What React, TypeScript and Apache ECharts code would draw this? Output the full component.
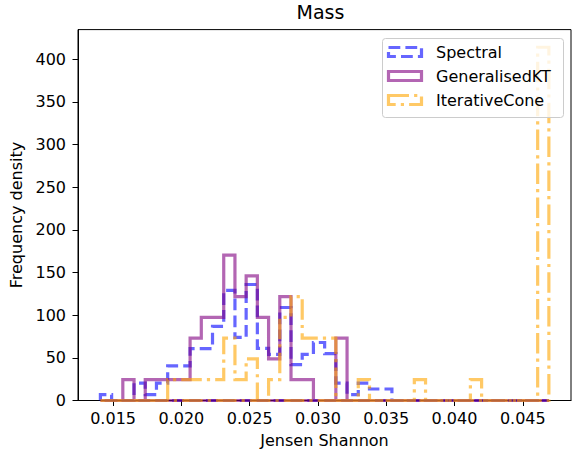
import React, { useEffect, useRef } from "react";
import * as echarts from "echarts";

// Histogram bins (shared by all three series)
const binStart = 0.01407;
const binWidth = 0.000821;

const seriesNames = ["Spectral", "GeneralisedKT", "IterativeCone"];

// Frequency density per bin (40 bins)
const spectral = [
  6.8, 0, 0, 20.3, 6.8, 20.3, 40.6, 40.6, 60.9, 60.9,
  87, 129, 74, 136, 61, 54, 109, 42, 54, 68,
  55, 20.3, 6.8, 20.3, 13.5, 13.5, 0, 0, 0, 0,
  0, 0, 0, 0, 0, 0, 0, 0, 0, 0,
];
const generalisedKT = [
  0, 0, 24.4, 0, 24.4, 24.4, 24.4, 24.4, 73.1, 97.4,
  97.4, 170.5, 121.8, 146.1, 97.4, 48.7, 121.8, 24.4, 24.4, 0,
  0, 73.1, 0, 0, 0, 0, 0, 0, 0, 0,
  0, 0, 0, 0, 0, 0, 0, 0, 0, 0,
];
const iterativeCone = [
  0, 0, 0, 0, 0, 0, 24.4, 24.4, 24.4, 24.4,
  24.4, 73.1, 24.4, 48.7, 0, 24.4, 97.4, 121.8, 73.1, 73.1,
  73.1, 0, 0, 24.4, 0, 0, 0, 0, 24.4, 0,
  0, 0, 0, 24.4, 0, 0, 0, 0, 0, 414.1,
];

const xTicks = [0.015, 0.02, 0.025, 0.03, 0.035, 0.04, 0.045];
const yTicks = [0, 50, 100, 150, 200, 250, 300, 350, 400];

const colors = ["rgba(0,0,255,0.6)", "rgba(128,0,128,0.6)", "rgba(255,165,0,0.6)"];
const dashes: any[] = [[11.8, 5.1], "solid", [20.5, 5.1, 3.2, 5.1]];

function stepOutline(heights: number[]) {
  const pts: number[][] = [[binStart, 0]];
  heights.forEach((h, i) => {
    const a = binStart + i * binWidth;
    pts.push([a, h], [a + binWidth, h]);
  });
  const end = binStart + heights.length * binWidth;
  pts.push([end, 0], [binStart, 0]);
  return pts;
}

const FONT = "DejaVu Sans";

export default function App() {
  const ref = useRef<HTMLDivElement>(null);
  useEffect(() => {
    if (!ref.current) return;
    const chart = echarts.init(ref.current, undefined, { renderer: "svg" });
    const allData = [spectral, generalisedKT, iterativeCone];
    const legendGraphics: any[] = [
      {
        type: "rect",
        z: 100,
        shape: { x: 382.5, y: 38.5, width: 181, height: 79, r: 3 },
        style: { fill: "rgba(255,255,255,0.8)", stroke: "#cccccc", lineWidth: 1 },
      },
    ];
    seriesNames.forEach((name, i) => {
      const cy = 52 + i * 24;
      legendGraphics.push({
        type: "rect",
        z: 101,
        shape: { x: 388.5, y: cy - 4.5, width: 33, height: 9 },
        style: {
          fill: "none",
          stroke: colors[i],
          lineWidth: 3.2,
          lineDash: dashes[i] === "solid" ? null : dashes[i],
          lineJoin: "miter",
        },
      });
      legendGraphics.push({
        type: "text",
        z: 101,
        x: 436,
        y: cy,
        style: {
          text: name,
          fontSize: 16,
          fontFamily: FONT,
          fill: "#000",
          verticalAlign: "middle",
          align: "left",
        },
      });
    });

    chart.setOption({
      animation: false,
      backgroundColor: "#fff",
      title: {
        text: "Mass",
        left: 320.5,
        top: 2,
        padding: 0,
        textAlign: "center",
        textStyle: { fontFamily: FONT, fontSize: 19, fontWeight: "normal", color: "#000" },
      },
      grid: {
        left: 70,
        right: 1,
        top: 29.6,
        bottom: 53.5,
        show: true,
        borderColor: "#000",
        borderWidth: 1,
        backgroundColor: "transparent",
      },
      xAxis: {
        type: "value",
        min: 0.01243,
        max: 0.04853,
        name: "Jensen Shannon",
        nameLocation: "middle",
        nameGap: 32,
        nameTextStyle: { fontFamily: FONT, fontSize: 16, color: "#000" },
        splitLine: { show: false },
        axisLine: { show: true, lineStyle: { color: "#000", width: 1 } },
        axisTick: { show: true, length: 5.5, lineStyle: { color: "#000" }, customValues: xTicks },
        axisLabel: {
          customValues: xTicks,
          margin: 10,
          fontFamily: FONT,
          fontSize: 16,
          color: "#000",
          formatter: (v: number) => v.toFixed(3),
        },
      },
      yAxis: {
        type: "value",
        min: 0,
        max: 434.8,
        name: "Frequency density",
        nameLocation: "middle",
        nameGap: 54,
        nameTextStyle: { fontFamily: FONT, fontSize: 16, color: "#000" },
        splitLine: { show: false },
        axisLine: { show: true, lineStyle: { color: "#000", width: 1 } },
        axisTick: { show: true, length: 5.5, lineStyle: { color: "#000" }, customValues: yTicks },
        axisLabel: {
          customValues: yTicks,
          margin: 12,
          fontFamily: FONT,
          fontSize: 16,
          color: "#000",
        },
      },
      series: seriesNames.map((name, i) => ({
        name,
        type: "line",
        data: stepOutline(allData[i]),
        symbol: "none",
        clip: true,
        z: 2 + i,
        lineStyle: {
          color: colors[i],
          width: 3.2,
          type: dashes[i],
          join: "miter",
          cap: "butt",
        },
      })),
      graphic: legendGraphics,
    });
    return () => chart.dispose();
  }, []);
  return (
    <div
      ref={ref}
      style={{ position: "fixed", left: 0, top: 0, width: 572, height: 454 }}
    />
  );
}
